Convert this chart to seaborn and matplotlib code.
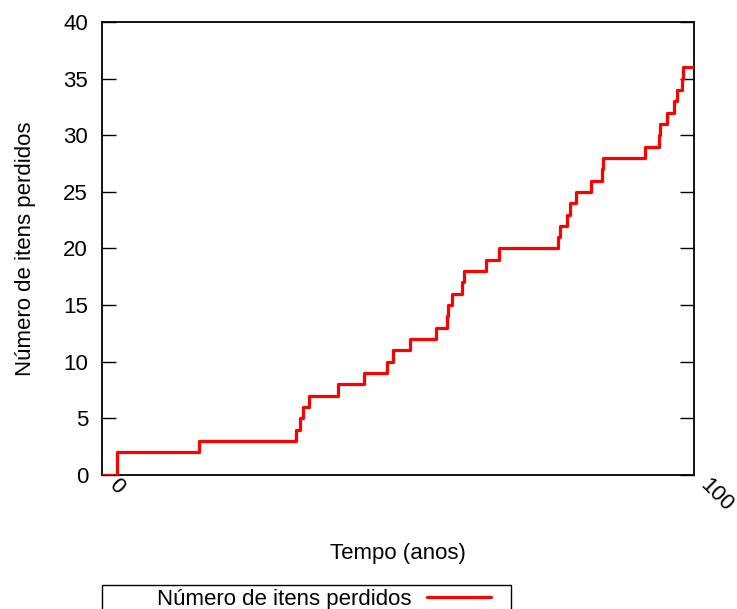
import numpy as np
import pandas as pd
import matplotlib
matplotlib.use("Agg")
import matplotlib.pyplot as plt
import matplotlib.patches as mpatches
import matplotlib.transforms as mtransforms
import seaborn as sns

# Data
tempo = [0, 2.45, 16.4, 32.8, 33.4, 34.0, 34.9, 39.9, 44.3, 48.2, 49.2, 52.1,
         56.4, 58.2, 58.4, 59.1, 60.8, 61.1, 64.9, 67.1, 77.1, 77.4, 78.5,
         79.1, 80.1, 82.6, 84.5, 84.7, 91.8, 94.1, 94.3, 95.4, 96.6, 97.1,
         98.0, 98.2, 100]
itens = [0, 2, 3, 4, 5, 6, 7, 8, 9, 10, 11, 12, 13, 14, 15, 16, 17, 18, 19,
         20, 21, 22, 23, 24, 25, 26, 27, 28, 29, 30, 31, 32, 33, 34, 35, 36, 36]
x_ticks = [0, 100]
y_ticks = [0, 5, 10, 15, 20, 25, 30, 35, 40]
serie_label = "Número de itens perdidos"

sns.set_style("white")
plt.rcParams['font.family'] = ['Liberation Sans', 'DejaVu Sans']
plt.rcParams['font.size'] = 16
plt.rcParams['text.color'] = 'black'
plt.rcParams['axes.labelcolor'] = 'black'
plt.rcParams['xtick.color'] = 'black'
plt.rcParams['ytick.color'] = 'black'

W, H = 737, 609
fig = plt.figure(figsize=(W / 100, H / 100), dpi=100)
ax = fig.add_axes([102 / W, 1 - 475 / H, (694 - 102) / W, (475 - 22) / H])

df = pd.DataFrame({"Tempo": tempo, "Itens": itens})
sns.lineplot(data=df, x="Tempo", y="Itens", ax=ax, color="#ff0000", lw=2.3,
             drawstyle="steps-post", estimator=None, label=serie_label,
             legend=False, zorder=5)

ax.set_xlim(0, 100)
ax.set_ylim(0, 40)
ax.set_yticks(y_ticks)
ax.set_xticks(x_ticks)

ax.tick_params(axis='y', which='both', direction='in', length=10, width=1,
               left=True, right=True, pad=10, labelsize=16, color='black',
               labelcolor='black')
ax.tick_params(axis='x', length=0, pad=1, labelsize=16, labelcolor='black')

ax.set_xticklabels([str(v) for v in x_ticks], rotation=-45, ha='left',
                   va='top', rotation_mode='anchor')
offset = mtransforms.ScaledTranslation(17 / 100, 2 / 100, fig.dpi_scale_trans)
for tick in ax.xaxis.get_major_ticks():
    tick.label1.set_transform(tick.label1.get_transform() + offset)

for s in ax.spines.values():
    s.set_visible(True)
    s.set_color('black')
    s.set_linewidth(1.3)

ax.set_ylabel("Número de itens perdidos", fontsize=16, color='black')
ax.yaxis.set_label_coords((36 - 102) / 592, 0.5)
ax.set_xlabel("Tempo (anos)", fontsize=16, color='black')
ax.xaxis.set_label_coords(0.5, (475 - 543) / 453)

handles, labels = ax.get_legend_handles_labels()
leg = ax.legend(handles, labels, loc='center left',
                bbox_to_anchor=(157 / W, 1 - 599 / H),
                bbox_transform=fig.transFigure, frameon=False,
                markerfirst=False, handlelength=2.9, handletextpad=0.68,
                borderpad=0, borderaxespad=0, fontsize=16)
for t in leg.get_texts():
    t.set_color('black')
for line in leg.get_lines():
    line.set_linewidth(2.3)

rect = mpatches.Rectangle((102 / W, -0.05), (511 - 102) / W,
                          (1 - 585 / H) + 0.05, transform=fig.transFigure,
                          fill=False, edgecolor='black', lw=1.0, clip_on=False)
fig.patches.append(rect)

fig.savefig("out.png", dpi=100)
